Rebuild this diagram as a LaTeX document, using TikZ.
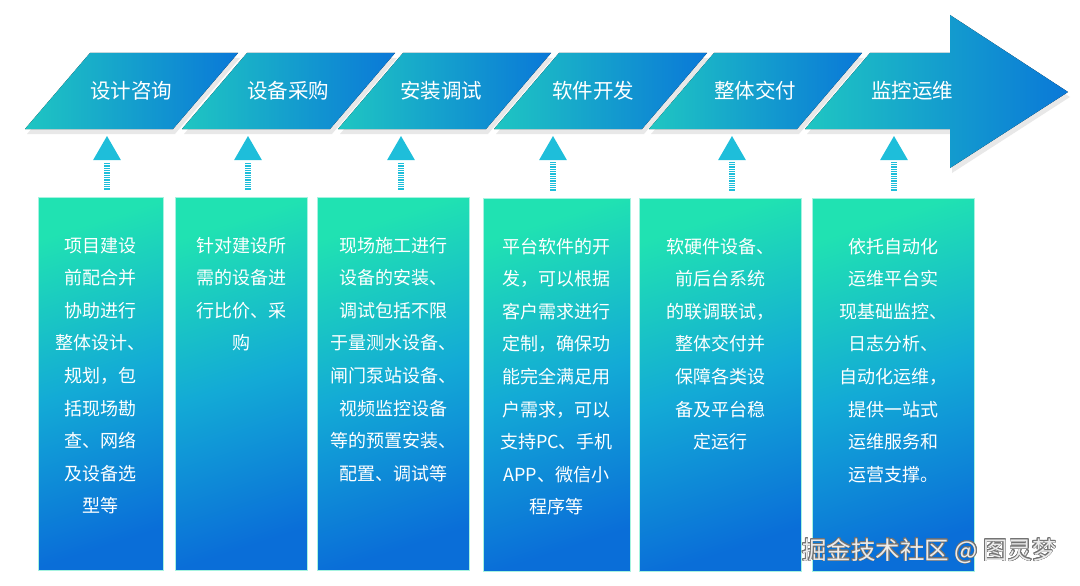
\documentclass[tikz,border=0pt]{standalone}
\usepackage{fontspec}
\setmainfont{Noto Sans CJK SC}
\usepackage{contour}
\usetikzlibrary{positioning,shapes.geometric,shadows}
\definecolor{barteal}{HTML}{1FC6C2}
\definecolor{barblue}{HTML}{0A78D8}
\definecolor{boxtop}{HTML}{20E2B2}
\definecolor{boxmid}{HTML}{13AAD6}
\definecolor{boxbot}{HTML}{0A6ED8}
\definecolor{tricyan}{HTML}{1EBEDA}
\pgfdeclareverticalshading{boxshade}{100bp}{color(0bp)=(boxbot); color(25bp)=(boxbot); color(50bp)=(boxmid); color(75bp)=(boxtop); color(100bp)=(boxtop)}
\contourlength{0.5pt}
\begin{document}
\begin{tikzpicture}[x=1pt,y=-1pt,
  hbar/.style={left color=barteal,right color=barblue,drop shadow={shadow xshift=2pt,shadow yshift=-5pt,opacity=0.18}},
  hlabel/.style={text=white,font=\fontsize{20.5}{24}\selectfont,inner sep=0pt},
  box/.style={rectangle,draw=boxtop!40!white,line width=0.6pt,shading=boxshade,shading angle=18,minimum height=373pt,inner sep=0pt},
  desc/.style={text=white,font=\fontsize{18}{32.6}\selectfont,align=center,inner sep=0pt},
  uptri/.style={regular polygon,regular polygon sides=3,fill=tricyan,minimum size=32pt,inner sep=0pt},
  stemline/.style={draw=tricyan,line width=6pt,dash pattern=on 1.3pt off 1pt,shorten <=7pt,shorten >=2pt}]

  \useasboundingbox (0,0) rectangle (1080,586);

  % the big arrow, cut into steps
  \fill[hbar] (90,53) -- (238,53) -- (173,129) -- (25,129) -- cycle;
  \fill[hbar] (247,53) -- (395,53) -- (330,129) -- (182,129) -- cycle;
  \fill[hbar] (403,53) -- (551,53) -- (486,129) -- (338,129) -- cycle;
  \fill[hbar] (559,53) -- (707,53) -- (642,129) -- (494,129) -- cycle;
  \fill[hbar] (714,53) -- (862,53) -- (797,129) -- (649,129) -- cycle;
  \fill[hbar] (870,53) -- (950,53) -- (950,15) -- (1068,92) -- (950,168) -- (950,129) -- (805,129) -- cycle;

  \node[hlabel] (h1) at (131,91) {设计咨询};
  \node[hlabel] (h2) at (288,91) {设备采购};
  \node[hlabel] (h3) at (441,91) {安装调试};
  \node[hlabel] (h4) at (593,91) {软件开发};
  \node[hlabel] (h5) at (755,91) {整体交付};
  \node[hlabel] (h6) at (912,91) {监控运维};

  % boxes
  \node[box,minimum width=125pt] (b1) at (100.5,383.5) {};
  \node[box,minimum width=132pt] (b2) at (241,383.5) {};
  \node[box,minimum width=152pt] (b3) at (393,383.5) {};
  \node[box,minimum width=147pt] (b4) at (556.5,384.5) {};
  \node[box,minimum width=162pt] (b5) at (720,384.5) {};
  \node[box,minimum width=162pt] (b6) at (893,384.5) {};

  \node[desc,below=40pt of b1.north] (d1) {项目建设\\前配合并\\协助进行\\整体设计、\\规划，包\\括现场勘\\查、网络\\及设备选\\型等};
  \node[desc,below=40pt of b2.north] (d2) {针对建设所\\需的设备进\\行比价、采\\购};
  \node[desc,below=40pt of b3.north] (d3) {现场施工进行\\设备的安装、\\调试包括不限\\于量测水设备、\\闸门泵站设备、\\视频监控设备\\等的预置安装、\\配置、调试等};
  \node[desc,below=40pt of b4.north] (d4) {平台软件的开\\发，可以根据\\客户需求进行\\定制，确保功\\能完全满足用\\户需求，可以\\支持PC、手机\\APP、微信小\\程序等};
  \node[desc,below=40pt of b5.north] (d5) {软硬件设备、\\前后台系统\\的联调联试，\\整体交付并\\保障各类设\\备及平台稳\\定运行};
  \node[desc,below=40pt of b6.north] (d6) {依托自动化\\运维平台实\\现基础监控、\\日志分析、\\自动化运维，\\提供一站式\\运维服务和\\运营支撑。};

  % small arrows
  \node[uptri] (t1) at (107,152) {};
  \node[uptri] (t2) at (248,152) {};
  \node[uptri] (t3) at (401,152) {};
  \node[uptri] (t4) at (553,152) {};
  \node[uptri] (t5) at (732,152) {};
  \node[uptri] (t6) at (894,152) {};

  \draw[stemline] (t1.south |- b1.north) -- (t1.south);
  \draw[stemline] (t2.south |- b2.north) -- (t2.south);
  \draw[stemline] (t3.south |- b3.north) -- (t3.south);
  \draw[stemline] (t4.south |- b4.north) -- (t4.south);
  \draw[stemline] (t5.south |- b5.north) -- (t5.south);
  \draw[stemline] (t6.south |- b6.north) -- (t6.south);

  \node[text=white!92!black,font=\fontsize{24.5}{28}\selectfont,anchor=west,inner sep=0pt] (wm) at (802,551) {\contour{black!55}{掘金技术社区 @ 图灵梦}};
\end{tikzpicture}
\end{document}
